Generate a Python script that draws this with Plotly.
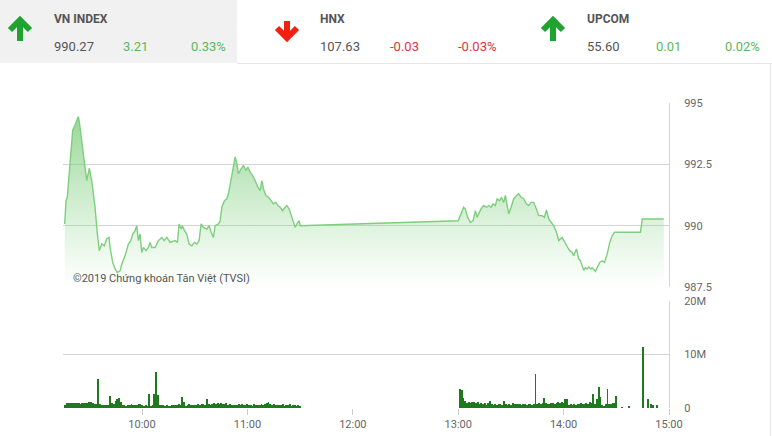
import plotly.graph_objects as go
import pandas as pd

DAY = "2019-01-01 "

# ---------------- data ----------------
header_names = ["VN INDEX", "HNX", "UPCOM"]
header_values = ["990.27", "107.63", "55.60"]
header_changes = ["3.21", "-0.03", "0.01"]
header_pcts = ["0.33%", "-0.03%", "0.02%"]
header_up = [True, False, True]

price_time = [
    "09:15:58", "09:16:43", "09:17:27", "09:20:32", "09:21:50", "09:23:43", "09:24:17", "09:25:40",
    "09:27:32", "09:28:30", "09:29:59", "09:31:21", "09:33:14", "09:34:33", "09:35:41", "09:37:03",
    "09:38:32", "09:39:54", "09:41:13", "09:41:47", "09:43:19", "09:44:38", "09:45:56", "09:47:29",
    "09:48:27", "09:50:20", "09:52:13", "09:53:35", "09:54:43", "09:56:02", "09:57:00", "09:57:55",
    "09:58:52", "09:59:50", "10:00:45", "10:02:17", "10:03:36", "10:04:34", "10:05:32", "10:07:25",
    "10:09:18", "10:11:14", "10:12:33", "10:14:05", "10:15:58", "10:18:49", "10:20:08", "10:21:06",
    "10:22:14", "10:22:59", "10:24:07", "10:25:29", "10:26:47", "10:28:20", "10:29:49", "10:31:11",
    "10:32:29", "10:33:38", "10:34:56", "10:36:53", "10:38:11", "10:39:20", "10:40:38", "10:41:37",
    "10:43:29", "10:44:28", "10:45:26", "10:46:55", "10:48:17", "10:49:11", "10:50:44", "10:52:02",
    "10:53:01", "10:53:58", "10:54:53", "10:56:25", "10:57:44", "10:59:06", "11:00:14", "11:01:33",
    "11:02:52", "11:04:24", "11:05:56", "11:07:15", "11:08:13", "11:09:08", "11:10:30", "11:11:59",
    "11:13:31", "11:14:50", "11:16:12", "11:17:20", "11:18:39", "11:19:58", "11:21:30", "11:22:28",
    "11:23:46", "11:24:55", "11:26:14", "11:27:11", "11:28:10", "11:29:28", "11:30:00",
    "13:00:00", "13:01:37", "13:03:05", "13:04:04", "13:05:22", "13:06:55", "13:08:27", "13:09:46",
    "13:10:44", "13:11:38", "13:13:01", "13:14:29", "13:16:02", "13:17:20", "13:18:42", "13:19:50",
    "13:21:09", "13:22:07", "13:23:36", "13:24:34", "13:25:53", "13:26:51", "13:27:49", "13:28:44",
    "13:30:06", "13:31:35", "13:33:07", "13:34:26", "13:35:48", "13:37:17", "13:38:49", "13:40:08",
    "13:41:30", "13:42:59", "13:44:31", "13:45:50", "13:47:46", "13:49:04", "13:50:13", "13:51:31",
    "13:52:53", "13:54:22", "13:55:55", "13:57:13", "13:59:10", "14:01:02", "14:02:21", "14:03:29",
    "14:04:52", "14:05:46", "14:07:19", "14:08:37", "14:09:35", "14:10:34", "14:11:28", "14:12:26",
    "14:13:24", "14:14:19", "14:15:17", "14:16:15", "14:17:10", "14:18:08", "14:19:06", "14:20:35",
    "14:21:57", "14:23:16", "14:24:48", "14:26:17", "14:27:39", "14:28:58", "14:43:46", "14:44:44",
    "14:57:03",
]
price_value = [
    990.07, 991.02, 991.16, 993.89, 994.10, 994.44, 994.23, 993.35,
    992.39, 991.84, 992.34, 991.84, 990.75, 989.67, 988.98, 989.26,
    989.18, 989.47, 989.52, 989.11, 988.50, 988.24, 988.09, 988.16,
    988.43, 988.77, 989.25, 989.39, 989.66, 989.80, 990.00, 989.39,
    989.66, 988.91, 989.11, 988.98, 989.11, 989.32, 989.11, 989.11,
    989.39, 989.52, 989.39, 989.52, 989.32, 989.39, 989.32, 990.07,
    989.86, 990.00, 989.80, 989.66, 989.25, 989.18, 989.32, 989.25,
    989.39, 990.07, 989.93, 989.86, 990.00, 989.73, 989.52, 990.00,
    990.07, 990.20, 990.75, 991.02, 991.09, 991.30, 991.98, 992.39,
    992.80, 992.53, 992.12, 992.32, 992.46, 992.25, 992.39, 992.18,
    992.05, 991.84, 991.57, 991.43, 991.84, 991.50, 991.23, 991.16,
    991.02, 990.89, 990.95, 990.82, 990.75, 990.61, 990.75, 990.82,
    990.68, 990.41, 990.07, 989.93, 990.07, 990.20, 990.00,
    990.20, 990.48, 990.75, 990.68, 990.34, 990.14, 990.20, 990.61,
    990.34, 990.48, 990.68, 990.82, 990.75, 990.82, 990.75, 990.89,
    990.82, 991.09, 991.02, 991.16, 990.95, 991.23, 990.89, 990.48,
    990.75, 991.09, 991.23, 991.30, 991.16, 991.09, 990.89, 990.82,
    990.95, 990.95, 990.68, 990.41, 990.41, 990.34, 990.64, 990.27,
    990.14, 990.00, 989.73, 989.39, 989.52, 989.25, 989.11, 988.98,
    988.91, 988.77, 989.05, 988.64, 988.57, 988.36, 988.18, 988.29,
    988.23, 988.32, 988.23, 988.29, 988.23, 988.13, 988.29, 988.50,
    988.57, 988.50, 988.84, 989.32, 989.59, 989.73, 989.73, 990.27,
    990.27,
]

# volume (millions), one bar per minute
vol_morning_start = "09:16"
vol_morning = [
    0.5, 0.9, 1.0, 0.9, 1.0, 0.9, 1.0, 1.0, 0.9, 0.8, 1.0, 0.9, 1.0, 1.0, 1.2, 1.2, 1.0, 0.8, 0.7,
    5.4, 0.7, 0.6, 0.5, 0.6, 0.5, 0.6, 2.3, 0.9, 0.7, 1.4, 1.6, 1.9, 1.2, 0.6, 0.5, 0.4, 0.6, 0.6,
    0.7, 0.6, 0.6, 0.5, 0.7, 0.8, 0.6, 0.4, 0.5, 0.4, 2.7, 0.3, 0.5, 2.7, 6.8, 2.5, 0.6, 0.5, 0.5,
    0.4, 0.5, 0.4, 0.4, 0.5, 0.6, 0.5, 0.6, 0.7, 0.6, 2.1, 1.2, 0.3, 0.6, 0.8, 0.5, 0.6, 0.5, 0.6,
    0.7, 0.5, 0.8, 0.7, 0.6, 1.6, 0.8, 0.5, 0.8, 0.9, 0.8, 0.9, 0.7, 0.9, 0.8, 0.7, 0.9, 0.6, 0.7,
    0.6, 0.6, 0.5, 0.6, 0.7, 0.6, 0.7, 0.6, 0.5, 0.7, 0.5, 0.6, 0.4, 0.7, 0.5, 0.6, 0.5, 0.7, 0.6,
    0.7, 1.0, 1.2, 0.7, 0.5, 0.7, 0.6, 0.5, 0.6, 0.5, 0.7, 0.4, 0.6, 0.5, 0.7, 0.4, 0.5, 0.6, 0.3,
    0.5, 0.2,
]
vol_afternoon_start = "13:01"
vol_afternoon = [
    3.55, 3.4, 1.9, 1.25, 1.0, 1.1, 1.0, 1.1, 1.2, 1.0, 1.1, 0.8, 1.0, 0.7, 0.9, 0.6, 0.9, 1.4,
    0.7, 0.5, 0.8, 0.6, 0.7, 0.8, 0.6, 1.4, 0.7, 0.6, 0.7, 0.6, 0.9, 0.8, 0.7, 0.8, 0.7, 0.6,
    0.8, 0.7, 0.6, 0.8, 0.7, 0.6, 0.7, 6.4, 0.8, 1.0, 0.8, 1.0, 1.9, 1.0, 0.8, 0.7, 0.9, 1.0,
    0.8, 1.0, 1.1, 0.9, 1.2, 1.0, 1.6, 1.6, 0.6, 0.7, 0.5, 0.7, 0.6, 0.8, 0.7, 0.9, 0.7, 0.8,
    1.0, 0.8, 1.1, 0.9, 2.7, 0.8, 1.7, 3.9, 2.1, 0.6, 0.4, 0.8, 3.6, 0.8, 0.8, 1.0, 0.9, 2.3,
]
vol_late_time = ["14:33", "14:37", "14:45", "14:48", "14:50", "14:51", "14:53"]
vol_late = [0.15, 0.2, 11.4, 1.6, 0.8, 0.6, 0.55]

x_ticks = ["10:00", "11:00", "12:00", "13:00", "14:00", "15:00"]
x_start, x_end = "09:15", "15:00"
price_ticks = [987.5, 990, 992.5, 995]
price_tick_text = ["987.5", "990", "992.5", "995"]
vol_ticks = [0, 10, 20]
vol_tick_text = ["0", "10M", "20M"]
watermark = "©2019 Chứng khoán Tân Việt (TVSI)"

# ---------------- figure ----------------
W, H = 772, 436
def X(px):
    return px / W
def Y(py):
    return 1 - py / H

FONT = "Roboto, sans-serif"
GRID = "#d4d4d4"
LINE_GREEN = "#7dcf7d"
BAR_GREEN = "#1f7a1f"
TXT = "#555555"
UP = "#5cb85c"
DOWN = "#d9363e"

pt = pd.to_datetime([DAY + t for t in price_time])
vm_t = pd.date_range(DAY + vol_morning_start, periods=len(vol_morning), freq="min")
va_t = pd.date_range(DAY + vol_afternoon_start, periods=len(vol_afternoon), freq="min")
vl_t = pd.to_datetime([DAY + t for t in vol_late_time])
vol_t = list(vm_t) + list(va_t) + list(vl_t)
vol_v = vol_morning + vol_afternoon + vol_late

fig = go.Figure()
fig.add_trace(go.Scatter(
    x=pt, y=price_value, mode="lines", xaxis="x", yaxis="y",
    line=dict(color=LINE_GREEN, width=1.4),
    fill="tozeroy",
    fillgradient=dict(type="vertical", start=987.5, stop=995,
                      colorscale=[[0, "rgba(140,215,140,0.0)"], [1, "rgba(115,200,115,0.8)"]]),
    hoverinfo="skip", showlegend=False,
))
fig.add_trace(go.Bar(
    x=vol_t, y=vol_v, xaxis="x2", yaxis="y2",
    marker=dict(color=BAR_GREEN, line=dict(width=0)),
    width=0.55 * 60 * 1000, showlegend=False, hoverinfo="skip",
))

xr = [DAY + x_start, DAY + x_end]
xdom = [X(63), X(669)]
axfont = dict(family=FONT, size=11, color="#666666")

fig.update_layout(
    width=W, height=H, margin=dict(l=0, r=0, t=0, b=0),
    paper_bgcolor="white", plot_bgcolor="white",
    bargap=0,
    xaxis=dict(domain=xdom, range=xr, type="date", anchor="y", showgrid=False,
               showticklabels=False, zeroline=False, showline=False, fixedrange=True),
    yaxis=dict(domain=[Y(287), Y(103)], range=[987.5, 995], side="right", anchor="x",
               tickvals=price_ticks, ticktext=price_tick_text, showgrid=True, gridcolor=GRID,
               zeroline=False, showline=True, linecolor=GRID, ticks="", ticklabelstandoff=12,
               tickfont=axfont, automargin=False),
    xaxis2=dict(domain=xdom, range=xr, type="date", anchor="y2", showgrid=False,
                tickvals=[DAY + t for t in x_ticks], ticktext=x_ticks,
                ticks="outside", ticklen=6, tickcolor="#cccccc", tickfont=axfont,
                zeroline=False, showline=False, automargin=False),
    yaxis2=dict(domain=[Y(408), Y(301)], range=[0, 20], side="right", anchor="x2",
                tickvals=vol_ticks, ticktext=vol_tick_text, showgrid=True, gridcolor=GRID,
                zeroline=False, showline=True, linecolor=GRID, ticks="", ticklabelstandoff=12,
                tickfont=axfont, automargin=False),
)

shapes = [
    dict(type="rect", xref="paper", yref="paper", x0=X(0), x1=X(237), y0=Y(63), y1=Y(0),
         fillcolor="#f1f1f1", line=dict(width=0), layer="below"),
    dict(type="line", xref="paper", yref="paper", x0=X(237), x1=X(772), y0=Y(63.5), y1=Y(63.5),
         line=dict(color="#e6e6e6", width=1)),
    dict(type="line", xref="paper", yref="paper", x0=X(770.5), x1=X(770.5), y0=Y(63), y1=Y(436),
         line=dict(color="#e6e6e6", width=1)),
]

def up_arrow(cx, color):
    return dict(type="path", xref="paper", yref="paper",
                path=(f"M {X(cx-10)},{Y(30)} L {X(cx)},{Y(20)} L {X(cx+10)},{Y(30)} "
                      f"M {X(cx)},{Y(20)} L {X(cx)},{Y(41)}"),
                line=dict(color=color, width=6))

def down_arrow(cx, color):
    return dict(type="path", xref="paper", yref="paper",
                path=(f"M {X(cx-10)},{Y(28)} L {X(cx)},{Y(38)} L {X(cx+10)},{Y(28)} "
                      f"M {X(cx)},{Y(38)} L {X(cx)},{Y(21)}"),
                line=dict(color=color, width=6))

arrow_x = [20, 287, 553]
for i, cx in enumerate(arrow_x):
    shapes.append(up_arrow(cx, "#1ea32e") if header_up[i] else down_arrow(cx, "#f2200f"))
fig.update_layout(shapes=shapes)

ann = []
col_x = [(52, 121, 189), (318, 388, 456), (585, 654, 723)]
hf = 13
for i in range(3):
    x0, x1, x2 = col_x[i]
    c = UP if header_up[i] else DOWN
    ann.append(dict(x=X(x0), y=Y(19), text=f"<b>{header_names[i]}</b>",
                    font=dict(family=FONT, size=12, color=TXT)))
    ann.append(dict(x=X(x0), y=Y(47), text=header_values[i], font=dict(family=FONT, size=hf, color=TXT)))
    ann.append(dict(x=X(x1), y=Y(47), text=header_changes[i], font=dict(family=FONT, size=hf, color=c)))
    ann.append(dict(x=X(x2), y=Y(47), text=header_pcts[i], font=dict(family=FONT, size=hf, color=c)))
ann.append(dict(x=X(71), y=Y(278), text=watermark, font=dict(family=FONT, size=11, color=TXT)))
for a in ann:
    a.update(xref="paper", yref="paper", xanchor="left", yanchor="middle", showarrow=False)
fig.update_layout(annotations=ann)

fig.write_html("out.html", config={"displayModeBar": False},
               post_script="document.body.style.margin='0px';document.body.style.overflow='hidden';")
